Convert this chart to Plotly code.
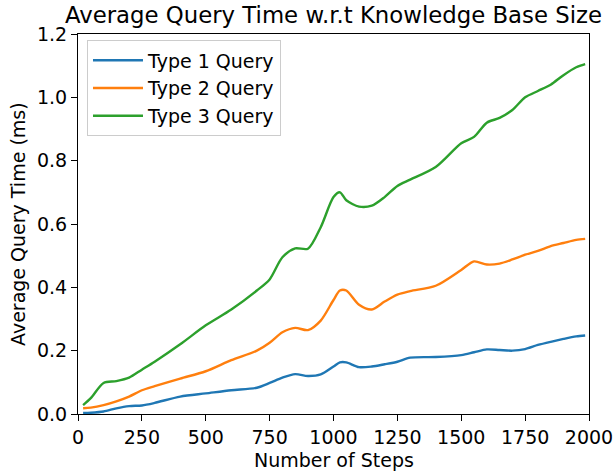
import plotly.graph_objects as go

steps = [20, 50, 100, 150, 200, 250, 300, 400, 500, 600, 700, 750, 800, 850, 900, 950,
         1000, 1025, 1050, 1100, 1150, 1200, 1250, 1300, 1400, 1500, 1550, 1600, 1650,
         1700, 1750, 1800, 1850, 1900, 1950, 1985]

type1 = [0.003, 0.004, 0.008, 0.018, 0.025, 0.027, 0.035, 0.055, 0.065, 0.075, 0.083, 0.098,
         0.115, 0.126, 0.120, 0.125, 0.150, 0.163, 0.163, 0.148, 0.150, 0.157, 0.165, 0.178,
         0.180, 0.186, 0.195, 0.204, 0.202, 0.200, 0.205, 0.218, 0.228, 0.237, 0.245, 0.248]

type2 = [0.018, 0.020, 0.028, 0.040, 0.055, 0.075, 0.088, 0.112, 0.135, 0.170, 0.200, 0.225,
         0.258, 0.272, 0.265, 0.295, 0.360, 0.390, 0.390, 0.345, 0.330, 0.355, 0.377, 0.388,
         0.405, 0.455, 0.482, 0.472, 0.475, 0.488, 0.503, 0.515, 0.530, 0.540, 0.550, 0.553]

type3 = [0.028, 0.050, 0.098, 0.104, 0.115, 0.140, 0.165, 0.220, 0.280, 0.330, 0.390, 0.425,
         0.495, 0.523, 0.522, 0.590, 0.685, 0.700, 0.675, 0.655, 0.658, 0.685, 0.720, 0.740,
         0.780, 0.855, 0.875, 0.920, 0.935, 0.960, 1.000, 1.020, 1.040, 1.070, 1.095, 1.105]

names = ["Type 1 Query", "Type 2 Query", "Type 3 Query"]
colors = ["#1f77b4", "#ff7f0e", "#2ca02c"]
x_ticks = [0, 250, 500, 750, 1000, 1250, 1500, 1750, 2000]
y_ticks = [0.0, 0.2, 0.4, 0.6, 0.8, 1.0, 1.2]

FONT = "DejaVu Sans"
FS = 19

fig = go.Figure()
for i, (name, ys, c) in enumerate(zip(names, [type1, type2, type3], colors)):
    fig.add_trace(go.Scatter(
        x=steps, y=ys, mode="lines", name=name,
        line=dict(color=c, width=2.4, shape="spline", smoothing=0.8),
    ))

axis_common = dict(
    showgrid=False, zeroline=False, showline=True, linecolor="black", linewidth=1.2,
    mirror=True, ticks="outside", ticklen=6, tickwidth=1.2, tickcolor="black",
    tickfont=dict(family=FONT, size=FS, color="black"), automargin=False,
)

fig.update_layout(
    template="none",
    width=614, height=475,
    margin=dict(l=78, r=25, t=34, b=61),
    paper_bgcolor="white", plot_bgcolor="white",
    font=dict(family=FONT, color="black"),
    title=dict(text="Average Query Time w.r.t Knowledge Base Size",
               font=dict(family=FONT, size=22.8, color="black"),
               x=0.5, xref="paper", xanchor="center",
               y=1 - 15 / 475, yref="container", yanchor="middle"),
    xaxis=dict(range=[0, 2000], tickvals=x_ticks, **axis_common),
    yaxis=dict(range=[0, 1.2], tickvals=y_ticks, tickformat=".1f", **axis_common),
    legend=dict(x=0.0176, y=0.983, xanchor="left", yanchor="top",
                bgcolor="white", bordercolor="#cccccc", borderwidth=1,
                font=dict(family=FONT, size=FS, color="black"),
                tracegroupgap=0, itemwidth=50),
    showlegend=True,
    annotations=[
        dict(text="Number of Steps", xref="paper", yref="paper", x=0.5, y=-46 / 380,
             xanchor="center", yanchor="middle", showarrow=False,
             font=dict(family=FONT, size=FS, color="black")),
        dict(text="Average Query Time (ms)", xref="paper", yref="paper", x=-60 / 511, y=0.5,
             xanchor="center", yanchor="middle", showarrow=False, textangle=-90,
             font=dict(family=FONT, size=FS, color="black")),
    ],
)

fig.write_html("out.html", config={"displayModeBar": False},
               post_script="document.body.style.margin='0';document.body.style.overflow='hidden';")
